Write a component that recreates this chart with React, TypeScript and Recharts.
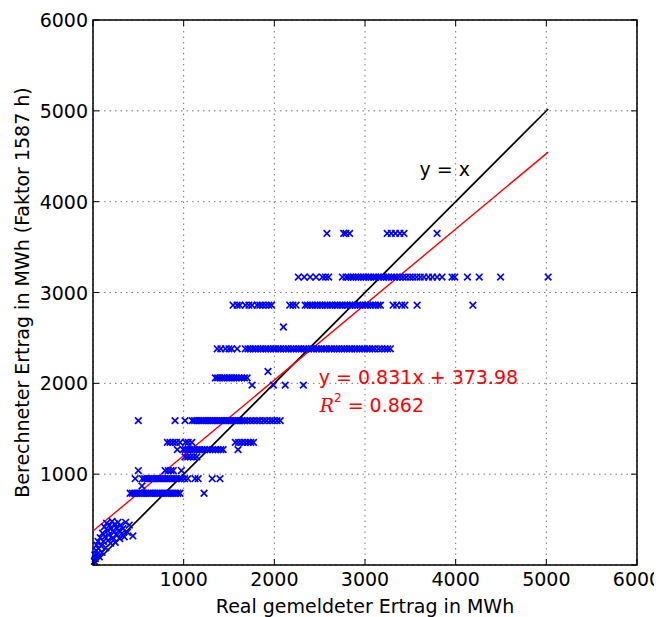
import React from 'react';
import {
  CartesianGrid,
  ReferenceArea,
  ReferenceDot,
  ReferenceLine,
  Scatter,
  ScatterChart,
  XAxis,
  YAxis,
} from 'recharts';

// x values (real reported yield, MWh) for each computed-yield level (MWh)
const row3650 = [2580, 2765, 2790, 2830, 3245, 3290, 3335, 3385, 3430, 3795];
const row3170 = [
  2265, 2330, 2395, 2460, 2530, 2565, 2600, 2750, 2790, 2815, 2845, 2870, 2900, 2925, 2955, 2985,
  3010, 3040, 3065, 3095, 3120, 3150, 3175, 3205, 3235, 3260, 3290, 3320, 3350, 3385, 3420, 3455,
  3495, 3530, 3570, 3610, 3650, 3700, 3745, 3795, 3850, 3960, 3990, 4130, 4260, 4495, 5020,
];
const row2860 = [
  1545, 1590, 1620, 1680, 1720, 1755, 1810, 1840, 1870, 1905, 1940, 1970, 2170, 2205, 2240, 2340,
  2365, 2395, 2420, 2450, 2475, 2505, 2530, 2560, 2585, 2615, 2640, 2670, 2695, 2725, 2750, 2780,
  2805, 2835, 2860, 2890, 2920, 2945, 2975, 3005, 3030, 3060, 3090, 3115, 3145, 3170, 3310, 3350,
  3405, 3440, 3575, 4190,
];
const row2620 = [2100];
const row2380 = [
  1370, 1410, 1460, 1500, 1530, 1590, 1680, 1710, 1735, 1765, 1790, 1820, 1850, 1875, 1905, 1930,
  1960, 1990, 2015, 2045, 2070, 2100, 2130, 2155, 2185, 2210, 2240, 2270, 2295, 2325, 2350, 2380,
  2410, 2435, 2465, 2490, 2520, 2550, 2575, 2605, 2630, 2660, 2690, 2715, 2745, 2770, 2800, 2830,
  2855, 2885, 2910, 2940, 2970, 2995, 3025, 3050, 3080, 3110, 3150, 3185, 3220, 3250, 3280,
];
const row2130 = [1930];
const row2060 = [1350, 1375, 1400, 1425, 1450, 1480, 1505, 1530, 1555, 1580, 1610, 1640, 1670, 1700];
const row1980 = [1755, 1990, 2120, 2320];
const row1590 = [
  500, 905, 1015, 1095, 1120, 1145, 1170, 1195, 1220, 1245, 1270, 1295, 1320, 1345, 1370, 1395,
  1420, 1445, 1470, 1495, 1520, 1545, 1570, 1595, 1620, 1645, 1670, 1700, 1735, 1770, 1805, 1840,
  1880, 1915, 1955, 1990, 2030, 2065,
];
const row1350 = [820, 850, 885, 920, 960, 1020, 1050, 1090, 1570, 1605, 1640, 1675, 1710, 1740, 1770];
const row1270 = [
  930, 995, 1020, 1045, 1070, 1095, 1120, 1150, 1175, 1200, 1230, 1260, 1290, 1320, 1350, 1380,
  1410, 1435, 1600,
];
const row1190 = [1015, 1045, 1075, 1110, 1145];
const row1040 = [500, 795, 830, 860, 885, 975];
const row950 = [
  465, 545, 570, 595, 620, 645, 670, 695, 720, 745, 770, 795, 820, 845, 870, 895, 920, 945, 975,
  1010, 1045, 1125, 1160, 1315, 1400,
];
const row870 = [540];
const row790 = [
  410, 435, 460, 485, 510, 535, 560, 585, 610, 635, 660, 685, 710, 735, 760, 785, 810, 835, 860,
  885, 910, 935, 960, 1225,
];

const levels: [number, number[]][] = [
  [3650, row3650],
  [3170, row3170],
  [2860, row2860],
  [2620, row2620],
  [2380, row2380],
  [2130, row2130],
  [2060, row2060],
  [1980, row1980],
  [1590, row1590],
  [1350, row1350],
  [1270, row1270],
  [1190, row1190],
  [1040, row1040],
  [950, row950],
  [870, row870],
  [790, row790],
];

// small plants near the origin
const lowX = [
  15, 20, 25, 35, 40, 45, 55, 60, 70, 80, 90, 100, 105, 115, 125, 130, 140, 150, 160, 165, 175,
  185, 195, 200, 210, 220, 230, 240, 245, 255, 265, 275, 285, 295, 305, 320, 330, 345, 360, 380,
  400, 440,
];
const lowY = [
  40, 110, 70, 160, 220, 120, 260, 180, 90, 300, 210, 140, 350, 260, 420, 310, 190, 460, 380, 270,
  330, 440, 240, 400, 480, 300, 360, 450, 250, 410, 330, 470, 380, 290, 440, 350, 400, 310, 470,
  360, 440, 320,
];

const ticks = [0, 1000, 2000, 3000, 4000, 5000, 6000];

// regression fit
const slope = 0.831;
const intercept = 373.98;
const rSquared = 0.862;
const lineEnd = 5020;

const points = [
  ...levels.flatMap(([y, xs]) => xs.map((x) => ({ x, y }))),
  ...lowX.map((x, i) => ({ x, y: lowY[i] })),
];

const FONT = 'DejaVu Sans';
const FS = 19;
const PLOT_W = 544;
const PLOT_H = 545;

const XMark = (props: any) => {
  const { cx, cy } = props;
  const s = 3.3;
  return (
    <path
      d={`M${cx - s},${cy - s}L${cx + s},${cy + s}M${cx - s},${cy + s}L${cx + s},${cy - s}`}
      stroke="#0000ff"
      strokeWidth={1.7}
      fill="none"
    />
  );
};

const XTick = (props: any) => {
  const { x, y, payload } = props;
  return (
    <g>
      <line x1={x} y1={y} x2={x} y2={y - 6} stroke="#000" />
      <line x1={x} y1={y - PLOT_H} x2={x} y2={y - PLOT_H + 6} stroke="#000" />
      {payload.value !== 0 && (
        <text x={x} y={y + 14} textAnchor="middle" dominantBaseline="central" fontSize={FS} fontFamily={FONT} fill="#000">
          {payload.value}
        </text>
      )}
    </g>
  );
};

const YTick = (props: any) => {
  const { x, y, payload } = props;
  return (
    <g>
      <line x1={x} y1={y} x2={x + 6} y2={y} stroke="#000" />
      <line x1={x + PLOT_W} y1={y} x2={x + PLOT_W - 6} y2={y} stroke="#000" />
      {payload.value !== 0 && (
        <text x={x - 5} y={y} textAnchor="end" dominantBaseline="central" fontSize={FS} fontFamily={FONT} fill="#000">
          {payload.value}
        </text>
      )}
    </g>
  );
};

const textAt = (content: React.ReactNode, color: string) => (props: any) => (
  <text x={props.cx} y={props.cy} dominantBaseline="central" fontSize={FS} fontFamily={FONT} fill={color}>
    {content}
  </text>
);

export default function App() {
  return (
    <ScatterChart width={654} height={609} margin={{ top: 12, right: 25, left: 25, bottom: 22 }}>
      <CartesianGrid stroke="#777" strokeDasharray="1.5 4" />
      <XAxis
        type="number"
        dataKey="x"
        domain={[0, 6000]}
        ticks={ticks}
        height={30}
        axisLine={false}
        tickLine={false}
        tickSize={0}
        tickMargin={0}
        tick={<XTick />}
        interval={0}
        label={{
          content: (p: any) => (
            <text
              x={p.viewBox.x + p.viewBox.width / 2}
              y={p.viewBox.y + 41}
              textAnchor="middle"
              dominantBaseline="central"
              fontSize={FS}
              fontFamily={FONT}
            >
              Real gemeldeter Ertrag in MWh
            </text>
          ),
        }}
      />
      <YAxis
        type="number"
        dataKey="y"
        domain={[0, 6000]}
        ticks={ticks}
        width={60}
        axisLine={false}
        tickLine={false}
        tickSize={0}
        tickMargin={0}
        tick={<YTick />}
        interval={0}
        label={{
          content: (p: any) => {
            const cx = p.viewBox.x - 11;
            const cy = p.viewBox.y + p.viewBox.height / 2;
            return (
              <text
                x={cx}
                y={cy}
                transform={`rotate(-90 ${cx} ${cy})`}
                textAnchor="middle"
                dominantBaseline="central"
                fontSize={FS}
                fontFamily={FONT}
              >
                Berechneter Ertrag in MWh (Faktor 1587 h)
              </text>
            );
          },
        }}
      />
      <Scatter data={points} shape={<XMark />} isAnimationActive={false} />
      <ReferenceLine
        segment={[
          { x: 0, y: 0 },
          { x: lineEnd, y: lineEnd },
        ]}
        stroke="#000"
        strokeWidth={1.7}
      />
      <ReferenceLine
        segment={[
          { x: 0, y: intercept },
          { x: lineEnd, y: slope * lineEnd + intercept },
        ]}
        stroke="#ff0000"
        strokeWidth={1.4}
      />
      <ReferenceDot x={3600} y={4360} r={0} shape={textAt('y = x', '#000')} />
      <ReferenceDot x={2490} y={2065} r={0} shape={textAt(`y = ${slope}x + ${intercept}`, '#ff0000')} />
      <ReferenceDot
        x={2500}
        y={1765}
        r={0}
        shape={textAt(
          <>
            <tspan fontFamily="DejaVu Serif" fontStyle="italic">R</tspan>
            <tspan fontSize={12} dy={-7}>2</tspan>
            <tspan dy={7}>{`  = ${rSquared}`}</tspan>
          </>,
          '#ff0000'
        )}
      />
      <ReferenceArea x1={0} x2={6000} y1={0} y2={6000} fill="none" stroke="#000" strokeWidth={1.5} />
    </ScatterChart>
  );
}
